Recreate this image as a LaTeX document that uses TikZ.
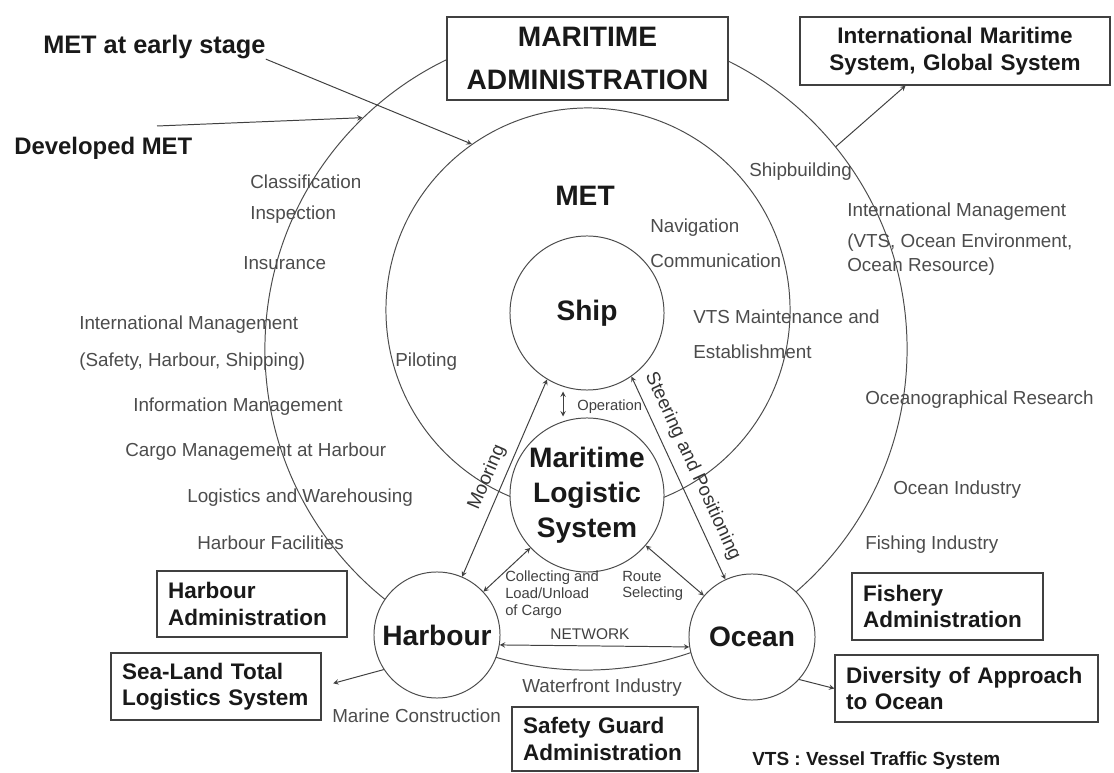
\documentclass[tikz,border=0pt]{standalone}
\usepackage{fontspec}
\setmainfont{Liberation Sans}
\usetikzlibrary{shapes,arrows,positioning}

\begin{document}
\begin{tikzpicture}[
    x=0.025cm, y=-0.025cm,
    >=stealth,
    ring/.style={circle, draw=black!70, line width=0.7pt, inner sep=0pt},
    hub/.style={circle, draw=black!70, fill=white, line width=0.7pt, inner sep=0pt, align=center, text=black!90, font=\fontsize{20}{25}\selectfont\bfseries},
    box/.style={rectangle, draw=black!75, fill=white, line width=0.8pt, align=left, inner xsep=0.28cm, minimum height=1.675cm, text=black!90, font=\fontsize{16}{18.8}\selectfont\bfseries},
    item/.style={inner sep=0pt, text=black!70, font=\fontsize{13.4}{16}\selectfont},
    note/.style={inner sep=0pt, align=left, text=black!75, font=\fontsize{10.5}{12}\selectfont},
    lead/.style={inner sep=0pt, text=black!90, font=\fontsize{18}{22}\selectfont\bfseries},
    arrow/.style={->, draw=black!75, line width=0.7pt},
    twoway/.style={<->, draw=black!75, line width=0.7pt}
]
\useasboundingbox (0,0) rectangle (1114,773);

% Rings
\node[ring, minimum size=16.05cm] (outer) at (586,349) {};
\node[ring, minimum size=10.1cm] (met) at (588,310) {};
\node[font=\fontsize{20}{24}\selectfont\bfseries, text=black!90] (metname) at (585,196) {MET};

% Administration boxes
\node[box, align=center, text width=6.465cm, minimum height=2.075cm, font=\fontsize{20}{30}\selectfont\bfseries] (madmin) at (587.5,58.5) {MARITIME\\ADMINISTRATION};
\node[box, align=center, text width=7.19cm, minimum height=1.7cm, font=\fontsize{16}{19.2}\selectfont\bfseries] (intl) at (955,51) {International Maritime\\System, Global System};
\node[box, text width=4.19cm, minimum height=1.65cm] (hadmin) at (252,604) {Harbour\\Administration};
\node[box, text width=4.69cm] (sealand) at (216,686.5) {Sea-Land Total\\Logistics System};
\node[box, text width=4.215cm] (fishery) at (947.5,606.5) {Fishery\\Administration};
\node[box, text width=6.015cm] (divers) at (966.5,688.5) {Diversity of Approach\\to Ocean};
\node[box, text width=4.09cm, minimum height=1.6cm] (sguard) at (605,739) {Safety Guard\\Administration};

% Main elements
\node[hub, minimum size=3.85cm] (ship) at (587,313) {Ship};
\node[hub, minimum size=3.85cm] (mls) at (587,495) {Maritime\\Logistic\\System};
\node[hub, minimum size=3.15cm] (harbour) at (437,635) {Harbour};
\node[hub, minimum size=3.15cm] (ocean) at (752,637) {Ocean};

% Stages of MET
\node[lead, anchor=west] (early) at (43,47) {MET at early stage};
\node[lead, anchor=west, font=\fontsize{17}{20}\selectfont\bfseries] (developed) at (14,148) {Developed MET};
\coordinate (devtail) at (157,126);

% Left side fields
\node[item, anchor=west] (classif) at (250,182) {Classification};
\node[item, anchor=west] (inspect) at (250,215) {Inspection};
\node[item, anchor=west] (insur) at (243,263) {Insurance};
\node[item, anchor=west] (intmgmtl) at (79,325) {International Management};
\node[item, anchor=west] (safetyl) at (79,362) {(Safety, Harbour, Shipping)};
\node[item, anchor=west] (piloting) at (395,362) {Piloting};
\node[item, anchor=west] (infomgmt) at (133,407) {Information Management};
\node[item, anchor=west] (cargo) at (125,452) {Cargo Management at Harbour};
\node[item, anchor=west] (logist) at (187,498) {Logistics and Warehousing};
\node[item, anchor=west] (facil) at (197,543) {Harbour Facilities};
\node[item, anchor=west] (marine) at (332,716) {Marine Construction};
\node[item, anchor=west] (waterfront) at (522,688) {Waterfront Industry};

% Right side fields
\node[item, anchor=west] (shipbuild) at (749,172) {Shipbuilding};
\node[item, anchor=west] (intmgmtr) at (847,212) {International Management};
\node[item, anchor=west] (vtsenv) at (847,243) {(VTS, Ocean Environment,};
\node[item, anchor=west] (oceanres) at (847,267) {Ocean Resource)};
\node[item, anchor=west] (navig) at (650,228) {Navigation};
\node[item, anchor=west] (commun) at (650,261) {Communication};
\node[item, anchor=west] (vtsmaint) at (693,317) {VTS Maintenance and};
\node[item, anchor=west] (establ) at (693,352) {Establishment};
\node[item, anchor=west] (oceanogr) at (865,400) {Oceanographical Research};
\node[item, anchor=west] (oceanind) at (893,490) {Ocean Industry};
\node[item, anchor=west] (fishing) at (865,545) {Fishing Industry};

% Small labels
\node[note, anchor=west] (operation) at (577,407) {Operation};
\node[note, anchor=west] (collect) at (505,595) {Collecting and\\Load/Unload\\of Cargo};
\node[note, anchor=west] (route) at (622,586) {Route\\Selecting};
\node[note, font=\fontsize{11}{13}\selectfont] (network) at (590,634) {NETWORK};
\node[inner sep=0pt, anchor=west, text=black!90, font=\fontsize{13.5}{16}\selectfont\bfseries] (legend) at (752,761) {VTS : Vessel Traffic System};

% Arrows
\draw[arrow] (early.south east) -- (met.125);
\draw[arrow] (devtail) -- (outer.134);
\draw[arrow] (outer.39) -- (intl.215);
\draw[arrow, shorten >=0.3cm] (harbour.213) -- (sealand.east);
\draw[arrow] (ocean.-42) -- (divers.west);
\draw[twoway] (harbour) -- node[sloped, above=5pt, pos=0.47, inner sep=0pt, text=black!80, font=\fontsize{13.4}{16}\selectfont] (mooring) {Mooring} (ship.-121);
\draw[twoway] (ship.-55) -- node[sloped, above=6pt, pos=0.48, inner sep=0pt, text=black!80, font=\fontsize{13.4}{16}\selectfont] (steering) {Steering and Positioning} (ocean);
\draw[twoway, shorten <=0.12cm, shorten >=0.12cm] (ship.-108) -- (mls.108);
\draw[twoway] (mls) -- (harbour);
\draw[twoway] (mls) -- (ocean);
\draw[twoway] (harbour.-9) -- (ocean.189);

\end{tikzpicture}
\end{document}
